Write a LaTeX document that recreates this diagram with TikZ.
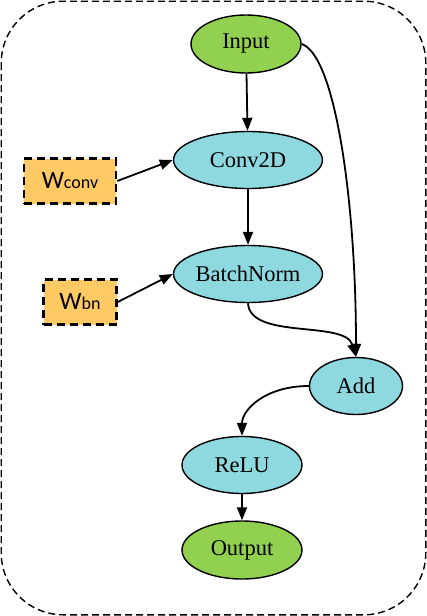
\documentclass[tikz,border=0pt]{standalone}
\usepackage{fontspec}
\setmainfont{Liberation Serif}
\newfontfamily\wfont{Carlito}
\usetikzlibrary{arrows.meta,shapes.geometric}
\definecolor{opgreen}{HTML}{92D050}
\definecolor{opcyan}{HTML}{8ED8E0}
\definecolor{worange}{HTML}{FFC964}
\tikzset{
  opnode/.style={ellipse, draw=black, line width=1.4pt, inner sep=0pt, minimum height=57pt, font=\fontsize{22.5}{24}\selectfont},
  ionode/.style={opnode, fill=opgreen, minimum width=110pt, minimum height=58pt},
  cnode/.style={opnode, fill=opcyan},
  wnode/.style={rectangle, draw=black, fill=worange, line width=2.6pt, dash pattern=on 8pt off 5pt, inner sep=0pt, minimum height=45pt},
  edge/.style={line width=1.8pt, -{Triangle[length=13pt,width=10pt]}}
}
\begin{document}
\begin{tikzpicture}[x=1pt,y=-1pt]
\useasboundingbox (0,0) rectangle (427,616);
\draw[line width=1.4pt, dash pattern=on 7pt off 4pt, rounded corners=62pt] (1.2,1.2) rectangle (425.8,614.8);
\node[ionode] (in) at (246,44) {Input};
\node[cnode, minimum width=149pt] (conv) at (248,160) {Conv2D};
\node[cnode, minimum width=149pt] (bn) at (248,274) {BatchNorm};
\node[cnode, minimum width=93pt] (add) at (356,386) {Add};
\node[cnode, minimum width=120pt] (relu) at (242,465) {ReLU};
\node[ionode, minimum width=120pt] (out) at (242,550) {Output};
\node[wnode, minimum width=92pt] (wc) at (70,181) {\wfont\fontsize{25}{27}\selectfont W\fontsize{18}{20}\selectfont conv};
\node[wnode, minimum width=73pt] (wb) at (80,302) {\wfont\fontsize{25}{27}\selectfont W\fontsize{18}{20}\selectfont bn};
\draw[edge] (in) -- (conv);
\draw[edge] (conv) -- (bn);
\draw[edge] (wc.east) -- (conv.west);
\draw[edge] (wb.east) -- (bn.west);
\draw[edge] (in.east) .. controls (335,55) and (356,200) .. (add.north);
\draw[edge] (bn.south) .. controls (250,340) and (345,320) .. (add.north);
\draw[edge] (add.west) .. controls (265,386) and (242,410) .. (relu.north);
\draw[edge] (relu) -- (out);
\end{tikzpicture}
\end{document}
